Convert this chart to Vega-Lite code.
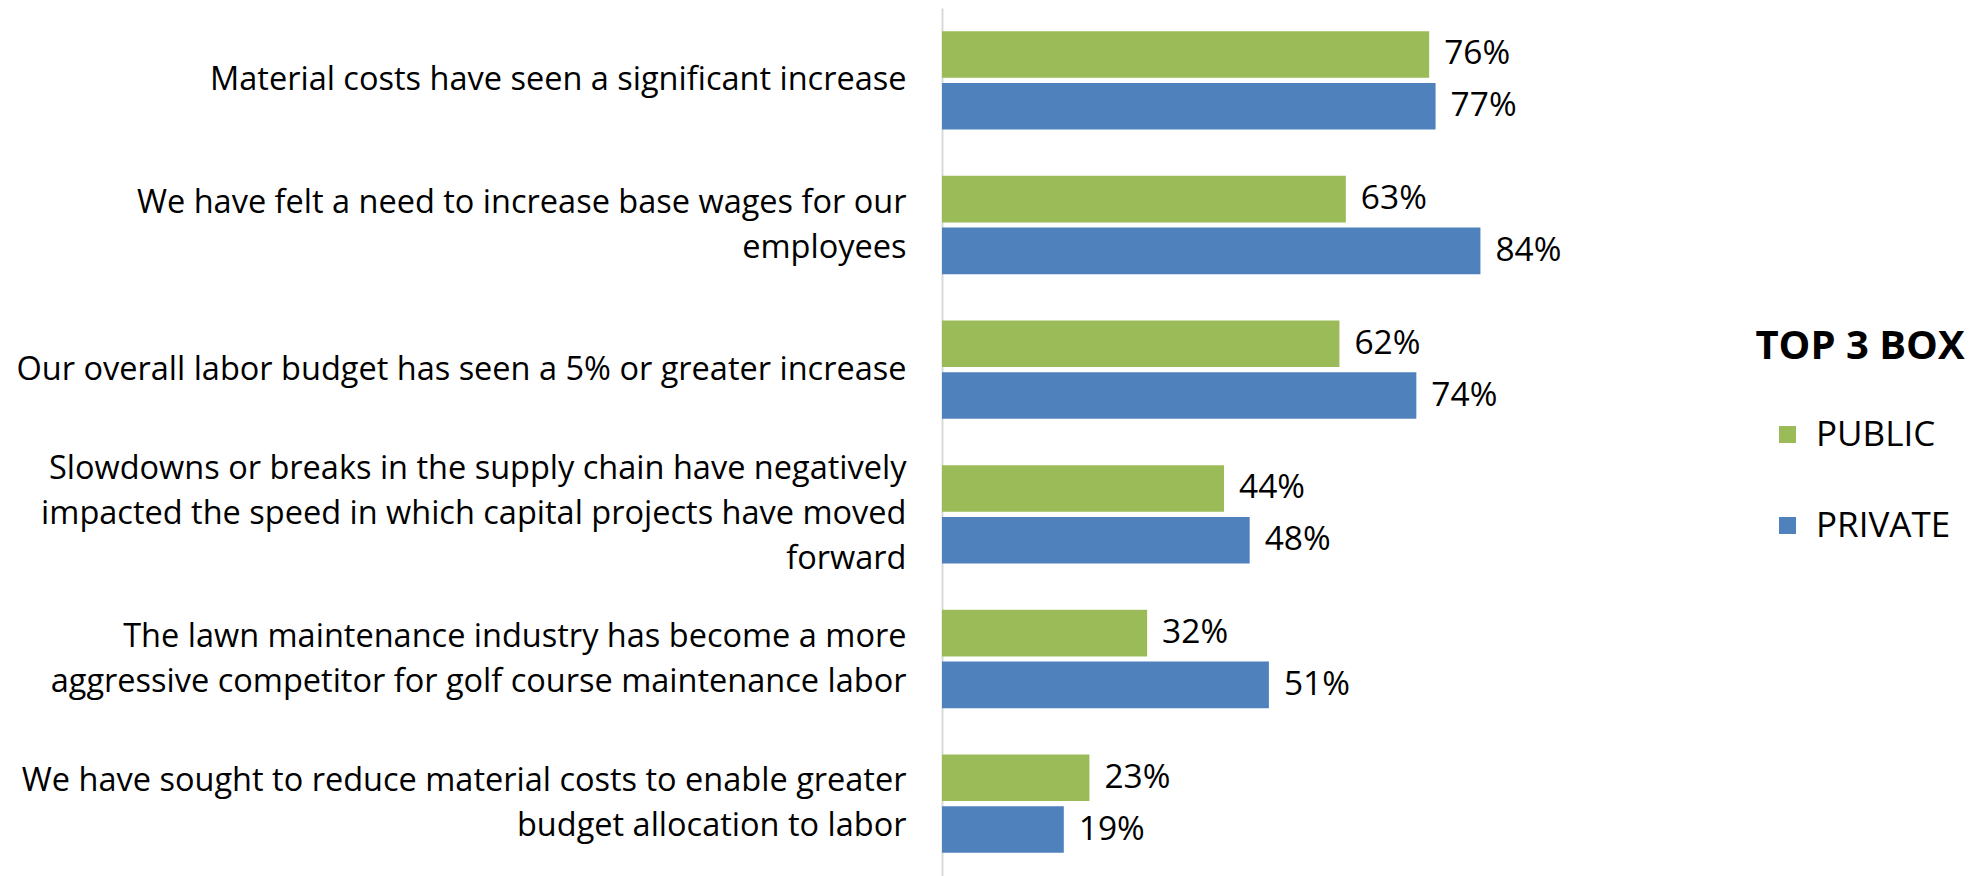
{
  "$schema": "https://vega.github.io/schema/vega-lite/v6.json",
  "width": 641,
  "height": 868,
  "autosize": "none",
  "padding": {"left": 942, "top": 8, "right": 391, "bottom": 0},
  "background": "white",
  "config": {"view": {"stroke": null}, "font": "Open Sans"},
  "data": {
    "values": [
      {"statement": "Material costs have seen a significant increase", "group": "PUBLIC", "value": 0.76},
      {"statement": "Material costs have seen a significant increase", "group": "PRIVATE", "value": 0.77},
      {"statement": "We have felt a need to increase base wages for our|employees", "group": "PUBLIC", "value": 0.63},
      {"statement": "We have felt a need to increase base wages for our|employees", "group": "PRIVATE", "value": 0.84},
      {"statement": "Our overall labor budget has seen a 5% or greater increase", "group": "PUBLIC", "value": 0.62},
      {"statement": "Our overall labor budget has seen a 5% or greater increase", "group": "PRIVATE", "value": 0.74},
      {"statement": "Slowdowns or breaks in the supply chain have negatively|impacted the speed in which capital projects have moved|forward", "group": "PUBLIC", "value": 0.44},
      {"statement": "Slowdowns or breaks in the supply chain have negatively|impacted the speed in which capital projects have moved|forward", "group": "PRIVATE", "value": 0.48},
      {"statement": "The lawn maintenance industry has become a more|aggressive competitor for golf course maintenance labor", "group": "PUBLIC", "value": 0.32},
      {"statement": "The lawn maintenance industry has become a more|aggressive competitor for golf course maintenance labor", "group": "PRIVATE", "value": 0.51},
      {"statement": "We have sought to reduce material costs to enable greater|budget allocation to labor", "group": "PUBLIC", "value": 0.23},
      {"statement": "We have sought to reduce material costs to enable greater|budget allocation to labor", "group": "PRIVATE", "value": 0.19}
    ]
  },
  "encoding": {
    "y": {
      "field": "statement",
      "type": "nominal",
      "sort": null,
      "scale": {"paddingInner": 0.32, "paddingOuter": 0.16},
      "axis": {
        "title": null,
        "domain": true,
        "domainColor": "#d9d9d9",
        "domainWidth": 2,
        "ticks": false,
        "labelPadding": 36,
        "labelFontSize": 32.5,
        "labelColor": "#000000",
        "labelLimit": 0,
        "labelAlign": "right",
        "labelBaseline": "middle",
        "labelLineHeight": 45,
        "labelOffset": {
          "condition": [
            {"test": "length(split(datum.value, '|')) == 3", "value": -45},
            {"test": "length(split(datum.value, '|')) == 2", "value": -22.5}
          ],
          "value": 0
        },
        "labelExpr": "split(datum.label, '|')"
      }
    },
    "yOffset": {
      "field": "group",
      "type": "nominal",
      "sort": ["PUBLIC", "PRIVATE"],
      "scale": {"paddingInner": 0.1}
    },
    "x": {
      "field": "value",
      "type": "quantitative",
      "scale": {"domain": [0, 1]},
      "axis": null
    }
  },
  "layer": [
    {
      "mark": {"type": "bar"},
      "encoding": {
        "color": {
          "field": "group",
          "type": "nominal",
          "scale": {"domain": ["PUBLIC", "PRIVATE"], "range": ["#9BBB59", "#4F81BD"]},
          "legend": {
            "title": "TOP 3 BOX",
            "orient": "none",
            "legendX": 813,
            "legendY": 319,
            "titleFont": "Open Sans",
            "titleFontSize": 40,
            "titleFontWeight": "bold",
            "titleColor": "#000000",
            "titleAnchor": "middle",
            "titleLimit": 0,
            "titlePadding": 50,
            "labelFont": "Open Sans",
            "labelFontSize": 35,
            "labelColor": "#000000",
            "labelOffset": 11,
            "labelLimit": 0,
            "symbolType": "square",
            "symbolSize": 289,
            "symbolStrokeWidth": 0,
            "rowPadding": 55
          }
        }
      }
    },
    {
      "mark": {"type": "text", "align": "left", "baseline": "middle", "dx": 15, "fontSize": 33.5, "font": "Open Sans", "color": "#000000"},
      "encoding": {
        "text": {"field": "value", "type": "quantitative", "format": ".0%"}
      }
    }
  ]
}
